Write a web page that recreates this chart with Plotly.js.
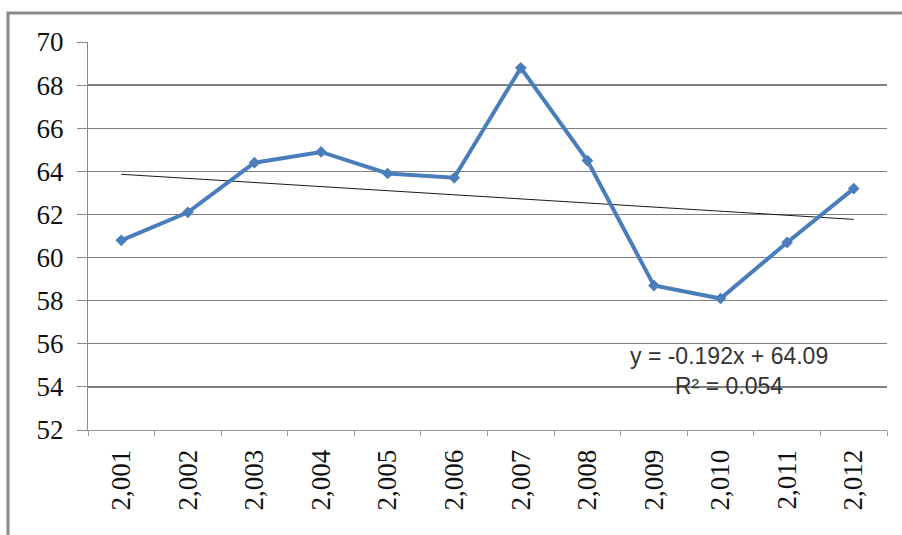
<!DOCTYPE html>
<html><head><meta charset="utf-8">
<script src="https://cdn.plot.ly/plotly-3.0.1.min.js"></script>
</head><body><div id="chart"></div>
<script>
document.body.style.margin = '0';
const years = ["2,001","2,002","2,003","2,004","2,005","2,006","2,007","2,008","2,009","2,010","2,011","2,012"];
const values = [60.8, 62.1, 64.4, 64.9, 63.9, 63.7, 68.8, 64.5, 58.7, 58.1, 60.7, 63.2];
const trendLabel = ["y = -0.192x + 64.09", "R\u00b2 = 0.054"];

// least-squares trendline over x = 1..n
const n = values.length;
const xs = values.map((_, i) => i + 1);
const mx = xs.reduce((a, b) => a + b, 0) / n;
const my = values.reduce((a, b) => a + b, 0) / n;
let sxy = 0, sxx = 0;
for (let i = 0; i < n; i++) { sxy += (xs[i] - mx) * (values[i] - my); sxx += (xs[i] - mx) ** 2; }
const slope = sxy / sxx, icpt = my - slope * mx;
const trend = xs.map(x => icpt + slope * x);

const SERIF = 'Times New Roman';
const SANS = 'Liberation Sans';
const data = [
  {x: years, y: trend, type: 'scatter', mode: 'lines', line: {color: '#1a1a1a', width: 1}, hoverinfo: 'skip'},
  {x: years, y: values, type: 'scatter', mode: 'lines+markers',
   line: {color: '#4a7ebb', width: 4}, marker: {symbol: 'diamond', size: 9, color: '#4a7ebb'}}
];
const layout = {
  width: 902, height: 535, showlegend: false,
  margin: {l: 88, r: 15, t: 42, b: 105},
  paper_bgcolor: '#fff', plot_bgcolor: '#fff',
  font: {family: SERIF, color: '#000'},
  xaxis: {type: 'category', range: [-0.5, 11.5], tickangle: -90, tickson: 'boundaries',
    ticks: 'outside', ticklen: 5, tickcolor: '#999', showline: true, linecolor: '#999', linewidth: 1,
    ticklabelstandoff: 8,
    showgrid: false, zeroline: false, tickfont: {size: 27, family: SERIF, color: '#111'}},
  yaxis: {range: [52, 70], dtick: 2, ticks: 'outside', ticklen: 10, tickcolor: '#888',
    ticklabelstandoff: 8,
    showline: true, linecolor: '#888', linewidth: 1, gridcolor: '#808080', gridwidth: 1.3, zeroline: false,
    tickfont: {size: 27, family: SERIF, color: '#111'}},
  shapes: [{type: 'rect', xref: 'paper', yref: 'paper',
    x0: (8 - 88) / 799, x1: (910 - 88) / 799, y0: (430 - 545) / 388, y1: (430 - 13) / 388,
    line: {color: '#8a8a8a', width: 3}, layer: 'below'}],
  annotations: [
    {xref: 'x', yref: 'y', x: 9.12, y: 55.45, text: trendLabel[0], showarrow: false,
     font: {family: SANS, size: 23, color: '#333'}},
    {xref: 'x', yref: 'y', x: 9.12, y: 54.05, text: trendLabel[1], showarrow: false,
     font: {family: SANS, size: 23, color: '#333'}}
  ]
};
Plotly.newPlot('chart', data, layout, {displayModeBar: false, staticPlot: true});
</script></body></html>
